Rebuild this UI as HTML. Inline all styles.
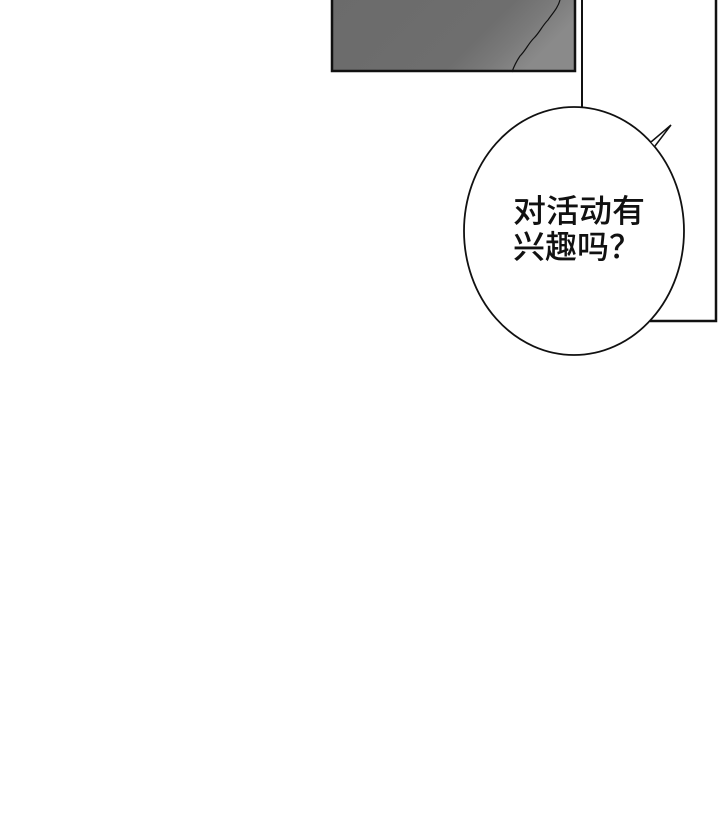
<!DOCTYPE html>
<html><head><meta charset="utf-8"><style>
html,body{margin:0;padding:0;background:#fff;}
svg{display:block;}
text{font-family:"Liberation Sans","Noto Sans CJK SC",sans-serif;}
</style></head><body>
<svg width="720" height="833" viewBox="0 0 720 833" xmlns="http://www.w3.org/2000/svg">
<defs>
<linearGradient id="g" x1="0" y1="0" x2="1" y2="0.3">
<stop offset="0" stop-color="#6b6b6b"/><stop offset="0.7" stop-color="#6e6e6e"/><stop offset="0.85" stop-color="#7a7a7a"/><stop offset="1" stop-color="#8a8a8a"/>
</linearGradient>
</defs>
<rect x="332" y="-2" width="243" height="73" fill="url(#g)" stroke="#111" stroke-width="2.5"/>
<path d="M560 0 C558 8 552 14 548 20 C542 26 540 32 534 38 C528 44 526 50 520 56 C516 62 514 66 512 72" fill="none" stroke="#111" stroke-width="1.2"/>
<line x1="582" y1="0" x2="582" y2="108" stroke="#111" stroke-width="2"/>
<polyline points="716,0 716,321 650,321" fill="none" stroke="#111" stroke-width="2.5"/>
<ellipse cx="574" cy="231" rx="110" ry="124" fill="#fff" stroke="#111" stroke-width="1.8"/>
<path d="M651 142 L671 125 L655 146" fill="#fff" stroke="#111" stroke-width="1.5"/>
<text x="513" y="222" font-size="32" font-weight="500" fill="#111" textLength="132" lengthAdjust="spacingAndGlyphs">对活动有</text>
<text x="513" y="258" font-size="32" font-weight="500" fill="#111">兴趣吗？</text>
</svg>
</body></html>
